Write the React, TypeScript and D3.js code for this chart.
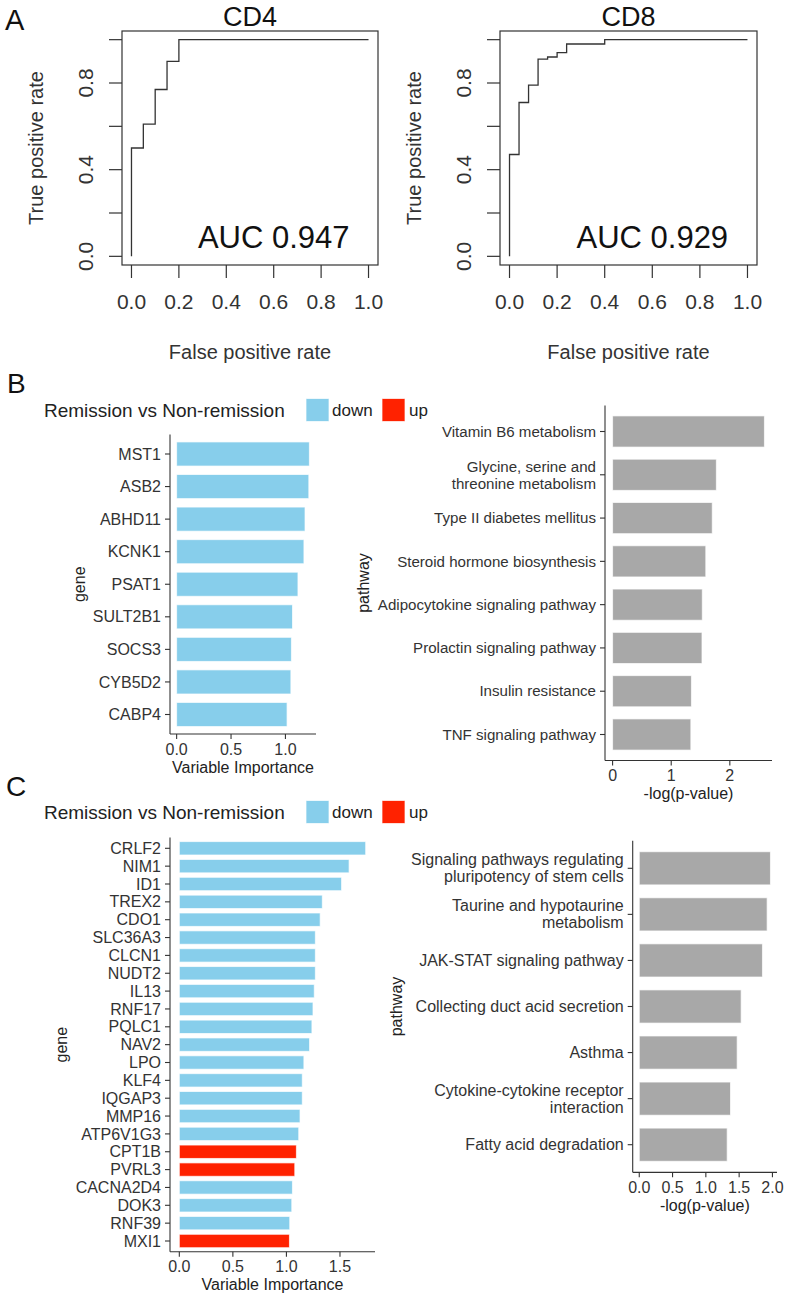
import * as d3 from 'd3';

const W = 789, H = 1298;
const FONT = "'Liberation Sans', Arial, Helvetica, sans-serif";

// --- panel A: ROC curves (corner points of the step curve)
const cd4Fpr = [0, 0, 0.05, 0.05, 0.1, 0.1, 0.15, 0.15, 0.2, 0.2, 1];
const cd4Tpr = [0, 0.5, 0.5, 0.61, 0.61, 0.77, 0.77, 0.9, 0.9, 1, 1];
const cd8Fpr = [0, 0, 0.04, 0.04, 0.08, 0.08, 0.12, 0.12, 0.16, 0.16, 0.2, 0.2, 0.24, 0.24, 0.4, 0.4, 1];
const cd8Tpr = [0, 0.47, 0.47, 0.71, 0.71, 0.79, 0.79, 0.91, 0.91, 0.92, 0.92, 0.94, 0.94, 0.98, 0.98, 1, 1];
const rocTicks = [0, 0.2, 0.4, 0.6, 0.8, 1];
const rocYLabelTicks = [0, 0.4, 0.8];

// --- panel B
const bGenes = ['MST1', 'ASB2', 'ABHD11', 'KCNK1', 'PSAT1', 'SULT2B1', 'SOCS3', 'CYB5D2', 'CABP4'];
const bGeneImp = [1.22, 1.215, 1.18, 1.17, 1.115, 1.065, 1.055, 1.05, 1.015];
const bGeneDir = ['down', 'down', 'down', 'down', 'down', 'down', 'down', 'down', 'down'];
const bPathways = [
  'Vitamin B6 metabolism',
  'Glycine, serine and\nthreonine metabolism',
  'Type II diabetes mellitus',
  'Steroid hormone biosynthesis',
  'Adipocytokine signaling pathway',
  'Prolactin signaling pathway',
  'Insulin resistance',
  'TNF signaling pathway',
];
const bPathwayLogP = [2.59, 1.77, 1.7, 1.59, 1.53, 1.525, 1.345, 1.335];

// --- panel C
const cGenes = ['CRLF2', 'NIM1', 'ID1', 'TREX2', 'CDO1', 'SLC36A3', 'CLCN1', 'NUDT2', 'IL13', 'RNF17', 'PQLC1',
  'NAV2', 'LPO', 'KLF4', 'IQGAP3', 'MMP16', 'ATP6V1G3', 'CPT1B', 'PVRL3', 'CACNA2D4', 'DOK3', 'RNF39', 'MXI1'];
const cGeneImp = [1.74, 1.585, 1.515, 1.335, 1.315, 1.27, 1.27, 1.27, 1.26, 1.248, 1.238,
  1.216, 1.163, 1.148, 1.148, 1.127, 1.115, 1.093, 1.078, 1.056, 1.05, 1.031, 1.028];
const cGeneDir = ['down', 'down', 'down', 'down', 'down', 'down', 'down', 'down', 'down', 'down', 'down',
  'down', 'down', 'down', 'down', 'down', 'down', 'up', 'up', 'down', 'down', 'down', 'up'];
const cPathways = [
  'Signaling pathways regulating\npluripotency of stem cells',
  'Taurine and hypotaurine\nmetabolism',
  'JAK-STAT signaling pathway',
  'Collecting duct acid secretion',
  'Asthma',
  'Cytokine-cytokine receptor\ninteraction',
  'Fatty acid degradation',
];
const cPathwayLogP = [1.97, 1.92, 1.85, 1.53, 1.47, 1.37, 1.32];

const dirColor: Record<string, string> = { down: '#87CEEB', up: '#FF2200' };
const GRAY = '#A8A8A8';

type RocProps = { boxL: number; boxR: number; fpr: number[]; tpr: number[]; title: string; auc: string };

const Roc = ({ boxL, boxR, fpr, tpr, title, auc }: RocProps) => {
  const boxT = 31, boxB = 265;
  const x = d3.scaleLinear().domain([-0.04, 1.04]).range([boxL, boxR]);
  const y = d3.scaleLinear().domain([-0.04, 1.04]).range([boxB, boxT]);
  const line = d3.line<number>().x((_, i) => x(fpr[i])).y((d) => y(d));
  const cx = (boxL + boxR) / 2;
  return (
    <g fontFamily={FONT}>
      <text x={cx} y={26} fontSize={27} textAnchor="middle" fill="#111">{title}</text>
      <rect x={boxL} y={boxT} width={boxR - boxL} height={boxB - boxT} fill="none" stroke="#333" strokeWidth={1.2} />
      <path d={line(tpr) || ''} fill="none" stroke="#333" strokeWidth={1.3} />
      {rocTicks.map((t) => (
        <g key={'x' + t}>
          <line x1={x(t)} x2={x(t)} y1={boxB} y2={boxB + 13} stroke="#333" strokeWidth={1.2} />
          <text x={x(t)} y={309} fontSize={21} textAnchor="middle" fill="#333">{t.toFixed(1)}</text>
        </g>
      ))}
      {rocTicks.map((t) => (
        <line key={'y' + t} x1={boxL - 13} x2={boxL} y1={y(t)} y2={y(t)} stroke="#333" strokeWidth={1.2} />
      ))}
      {rocYLabelTicks.map((t) => (
        <text key={'yl' + t} transform={`translate(${boxL - 29},${y(t)}) rotate(-90)`} fontSize={21}
          textAnchor="middle" fill="#333">{t.toFixed(1)}</text>
      ))}
      <text transform={`translate(${boxL - 79},${y(0.5)}) rotate(-90)`} fontSize={20} textAnchor="middle" fill="#333">
        True positive rate
      </text>
      <text x={x(0.6)} y={248} fontSize={31} textAnchor="middle" fill="#111">{auc}</text>
      <text x={x(0.5)} y={359} fontSize={20} textAnchor="middle" fill="#333">False positive rate</text>
    </g>
  );
};

type BarProps = {
  labels: string[]; values: number[]; colors: string[];
  axisLeft: number; axisRight: number; firstY: number; lastY: number; barFrac: number;
  ticks: number[]; fmt: (v: number) => string; xTitle: string; yTitle: string; yTitleX: number; labelSize: number;
};

const BarPanel = (p: BarProps) => {
  const M = d3.max(p.values) as number;
  const x = d3.scaleLinear().domain([-0.05 * M, 1.05 * M]).range([p.axisLeft, p.axisRight]);
  const y = d3.scalePoint<string>().domain(p.labels).range([p.firstY, p.lastY]);
  const step = y.step();
  const pad = 0.6 * step;
  const top = p.firstY - pad, bottom = p.lastY + pad;
  const bh = step * p.barFrac;
  return (
    <g fontFamily={FONT}>
      {p.labels.map((lab, i) => {
        const cy = y(lab) as number;
        const lines = lab.split('\n');
        return (
          <g key={lab}>
            <rect x={x(0)} y={cy - bh / 2} width={x(p.values[i]) - x(0)} height={bh} fill={p.colors[i]}
              stroke="#fff" strokeOpacity={0.7} strokeWidth={1} />
            <line x1={p.axisLeft - 5} x2={p.axisLeft} y1={cy} y2={cy} stroke="#333" strokeWidth={1.1} />
            {lines.map((ln, k) => (
              <text key={k} x={p.axisLeft - 9} y={cy + (k - (lines.length - 1) / 2) * 17 + p.labelSize * 0.35}
                fontSize={p.labelSize} textAnchor="end" fill="#333">{ln}</text>
            ))}
          </g>
        );
      })}
      <line x1={p.axisLeft} x2={p.axisLeft} y1={top} y2={bottom} stroke="#333" strokeWidth={1.1} />
      <line x1={p.axisLeft} x2={p.axisRight} y1={bottom} y2={bottom} stroke="#333" strokeWidth={1.1} />
      {p.ticks.map((t) => (
        <g key={t}>
          <line x1={x(t)} x2={x(t)} y1={bottom} y2={bottom + 5} stroke="#333" strokeWidth={1.1} />
          <text x={x(t)} y={bottom + 20.5} fontSize={16} textAnchor="middle" fill="#333">{p.fmt(t)}</text>
        </g>
      ))}
      <text x={(p.axisLeft + p.axisRight) / 2} y={bottom + 38.5} fontSize={16} textAnchor="middle" fill="#222">
        {p.xTitle}
      </text>
      <text transform={`translate(${p.yTitleX},${(top + bottom) / 2}) rotate(-90)`} fontSize={16}
        textAnchor="middle" fill="#222">{p.yTitle}</text>
    </g>
  );
};

const Legend = ({ cy }: { cy: number }) => (
  <g fontFamily={FONT}>
    <text x={44} y={cy + 6.5} fontSize={19} fill="#222">Remission vs Non-remission</text>
    <rect x={306} y={cy - 11.5} width={23} height={23} fill={dirColor.down} stroke="#fff" strokeOpacity={0.7} />
    <text x={332} y={cy + 6} fontSize={17} fill="#222">down</text>
    <rect x={382} y={cy - 11.5} width={23} height={23} fill={dirColor.up} stroke="#fff" strokeOpacity={0.7} />
    <text x={409} y={cy + 6} fontSize={17} fill="#222">up</text>
  </g>
);

const f1 = (v: number) => v.toFixed(1);
const f0 = (v: number) => d3.format('d')(v);

export default function App() {
  return (
    <svg width={W} height={H} style={{ position: 'absolute', left: 0, top: 0, background: '#fff' }}>
      <g fontFamily={FONT} fill="#111">
        <text x={5} y={30} fontSize={29}>A</text>
        <text x={7} y={393} fontSize={28}>B</text>
        <text x={6} y={796} fontSize={28}>C</text>
      </g>
      <Roc boxL={122} boxR={378} fpr={cd4Fpr} tpr={cd4Tpr} title="CD4" auc="AUC 0.947" />
      <Roc boxL={500} boxR={757} fpr={cd8Fpr} tpr={cd8Tpr} title="CD8" auc="AUC 0.929" />

      <Legend cy={410} />
      <BarPanel labels={bGenes} values={bGeneImp} colors={bGeneDir.map((d) => dirColor[d])}
        axisLeft={170} axisRight={316} firstY={454} lastY={714.5} barFrac={0.74}
        ticks={[0, 0.5, 1]} fmt={f1} xTitle="Variable Importance" yTitle="gene" yTitleX={85} labelSize={16} />
      <BarPanel labels={bPathways} values={bPathwayLogP} colors={bPathways.map(() => GRAY)}
        axisLeft={605} axisRight={772} firstY={431.5} lastY={734.5} barFrac={0.72}
        ticks={[0, 1, 2]} fmt={f0} xTitle="-log(p-value)" yTitle="pathway" yTitleX={369} labelSize={15.1} />

      <Legend cy={812} />
      <BarPanel labels={cGenes} values={cGeneImp} colors={cGeneDir.map((d) => dirColor[d])}
        axisLeft={170} axisRight={375} firstY={848.3} lastY={1241} barFrac={0.75}
        ticks={[0, 0.5, 1, 1.5]} fmt={f1} xTitle="Variable Importance" yTitle="gene" yTitleX={67} labelSize={16} />
      <BarPanel labels={cPathways} values={cPathwayLogP} colors={cPathways.map(() => GRAY)}
        axisLeft={632.7} axisRight={777} firstY={868.3} lastY={1144.7} barFrac={0.72}
        ticks={[0, 0.5, 1, 1.5, 2]} fmt={f1} xTitle="-log(p-value)" yTitle="pathway" yTitleX={402} labelSize={16} />
    </svg>
  );
}
